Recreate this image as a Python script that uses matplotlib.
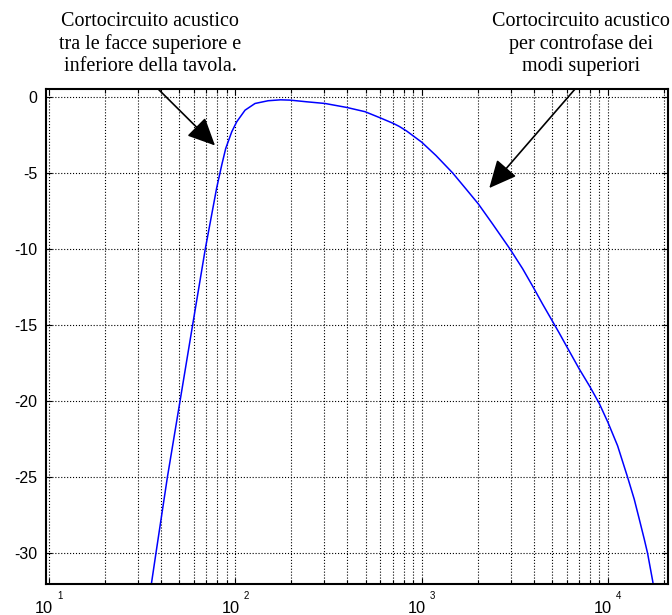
import numpy as np
import matplotlib
matplotlib.use("Agg")
import matplotlib.pyplot as plt
import matplotlib.transforms as mtransforms
from matplotlib.ticker import LogLocator, NullFormatter

plt.rcParams['font.family'] = 'Liberation Sans'
plt.rcParams['axes.unicode_minus'] = False

# risposta in frequenza della tavola (Hz, dB)
freq = [34, 37.5, 43.2, 50.5, 59, 69, 79.4, 84.5, 88.8, 95.7, 101.8, 112.8,
        127.6, 150, 175, 197, 242, 303, 396, 497, 598, 705, 759, 831, 1000,
        1194, 1466, 1728, 2015, 2404, 2979, 3484, 3974, 4457, 4961, 5479,
        5998, 7015, 8000, 8977, 10000, 11270, 12760, 13840, 14730, 15670,
        16320, 17380, 18300]
db = [-33.5, -30.0, -25.0, -20.0, -15.0, -10.0, -6.0, -4.5, -3.4, -2.3, -1.64,
      -0.88, -0.44, -0.26, -0.2, -0.22, -0.33, -0.44, -0.7, -0.98, -1.38,
      -1.75, -1.95, -2.25, -2.98, -3.86, -5.0, -6.05, -7.04, -8.36, -10.0,
      -11.3, -12.52, -13.62, -14.61, -15.53, -16.4, -17.89, -19.05, -20.15,
      -21.4, -22.94, -25.02, -26.45, -27.76, -29.08, -30.0, -31.82, -33.5]

yticks = [0, -5, -10, -15, -20, -25, -30]
decades = [1, 2, 3, 4]

note1 = "Cortocircuito acustico\ntra le facce superiore e\ninferiore della tavola."
note2 = "Cortocircuito acustico\nper controfase dei\nmodi superiori"
arrow1 = ((38.6, 0.5), (77.8, -3.2))
arrow2 = ((6650, 0.5), (2307, -6.0))

fig = plt.figure(figsize=(6.72, 6.15), dpi=100)
ax = fig.add_axes([0.068, 0.051, 0.926, 0.804])

ax.semilogx(freq, db, color=(0, 0, 1), lw=1.1)

ax.set_xlim(9.6, 21000)
ax.set_ylim(-32, 0.5)

ax.xaxis.set_major_locator(LogLocator(base=10, numticks=10))
ax.xaxis.set_minor_locator(LogLocator(base=10, subs=np.arange(2, 10), numticks=20))
ax.xaxis.set_major_formatter(NullFormatter())
ax.xaxis.set_minor_formatter(NullFormatter())
ax.set_yticks(yticks)
ax.set_yticklabels([str(v) for v in yticks], fontsize=11.5)

ax.tick_params(which='both', direction='in', top=True, right=True, width=0.8)
ax.tick_params(which='major', length=4, pad=6)
ax.tick_params(which='minor', length=3)

ax.grid(True, which='major', axis='both', color='k', ls=':', lw=0.8)
ax.grid(True, which='minor', axis='x', color='k', ls=':', lw=0.8)
for s in ax.spines.values():
    s.set_linewidth(1.5)

# etichette 10^n in stile MATLAB
trans = mtransforms.blended_transform_factory(ax.transData, ax.transAxes)
for d in decades:
    base = mtransforms.offset_copy(trans, fig=fig, x=3.0, y=-21.5, units='points')
    ax.text(10 ** d, 0, "10", transform=base, ha='right', va='baseline',
            fontsize=11.8, clip_on=False)
    sup = mtransforms.offset_copy(trans, fig=fig, x=6.0, y=-10.8, units='points')
    ax.text(10 ** d, 0, str(d), transform=sup, ha='left', va='baseline',
            fontsize=7, clip_on=False)

# annotazioni
for (start, tip) in (arrow1, arrow2):
    ax.annotate('', xy=tip, xytext=start, xycoords='data', textcoords='data',
                annotation_clip=False,
                arrowprops=dict(arrowstyle='-|>,head_length=0.85,head_width=0.4',
                                mutation_scale=20, color='k', lw=1.2,
                                shrinkA=0, shrinkB=0))

fig.text(150 / 672, 1 - 12 / 615, note1, ha='center', va='top',
         multialignment='center', fontsize=14.5, family='Liberation Serif',
         linespacing=1.22)
fig.text(581 / 672, 1 - 12 / 615, note2, ha='center', va='top',
         multialignment='center', fontsize=14.5, family='Liberation Serif',
         linespacing=1.22)

fig.savefig("out.png", dpi=100)
